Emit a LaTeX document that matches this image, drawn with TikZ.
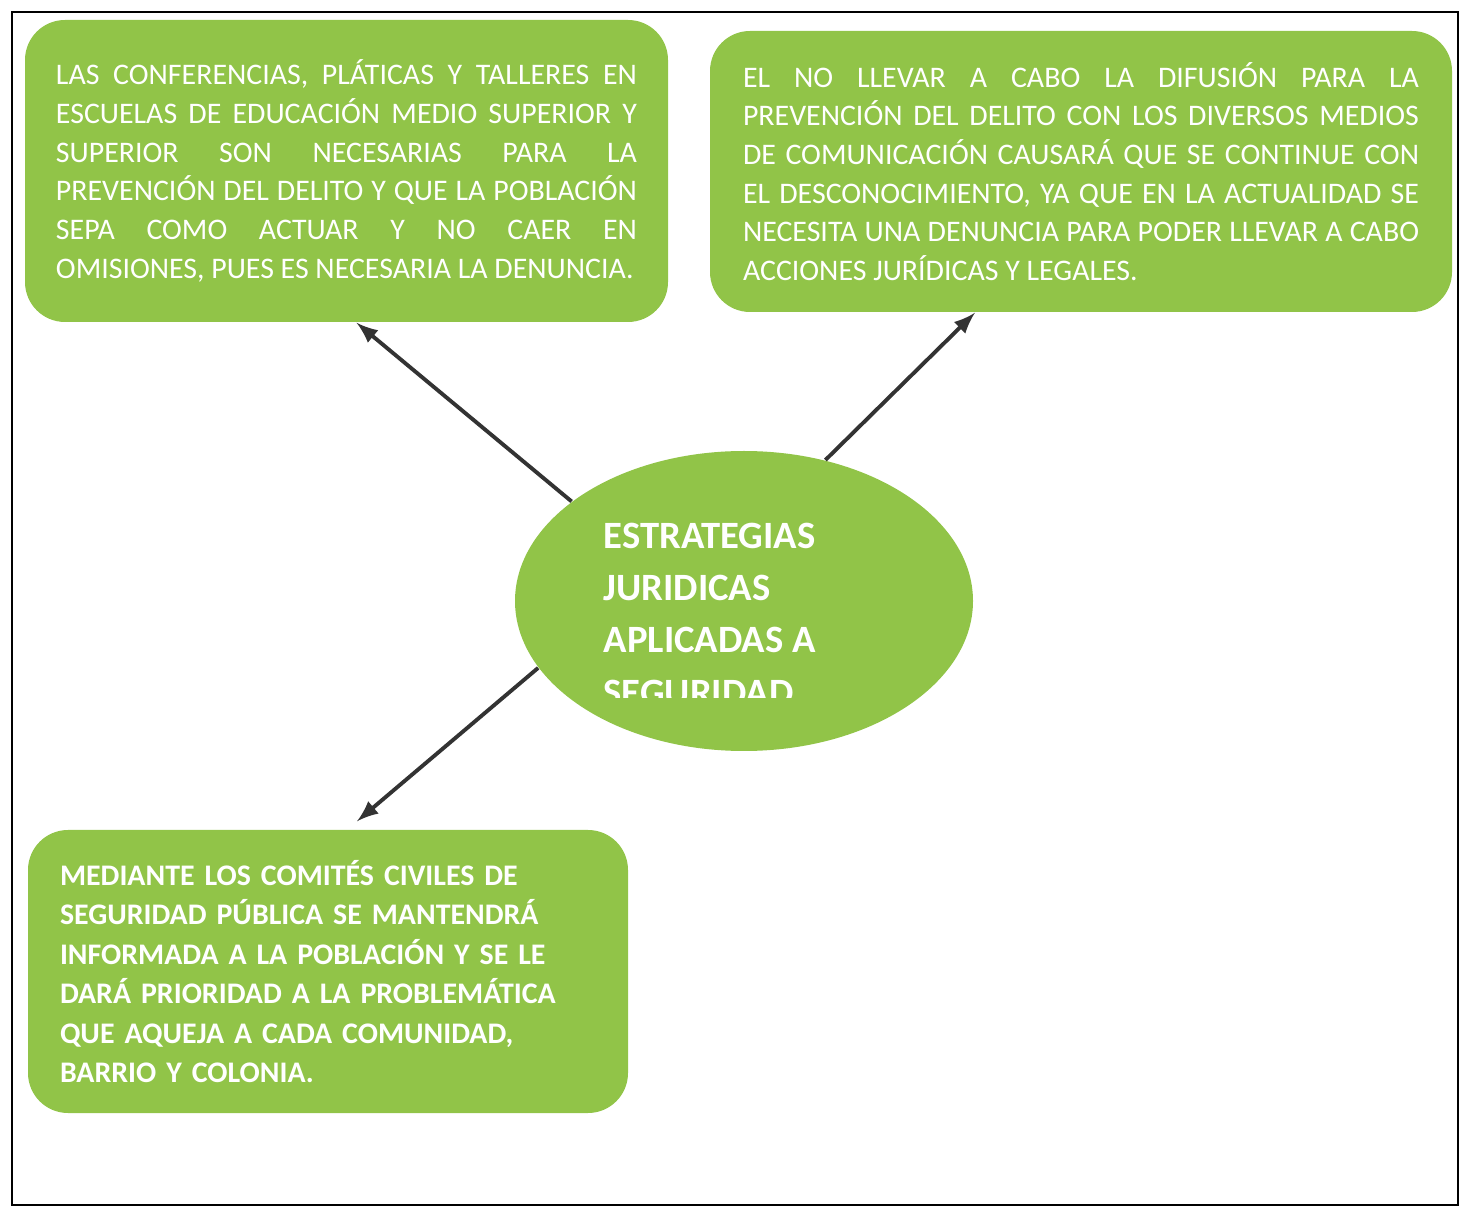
\documentclass[tikz,border=0pt]{standalone}
\usepackage{fontspec}
\setmainfont{Carlito}
\usetikzlibrary{shapes.geometric}

\definecolor{leaf}{RGB}{145,196,72}
\hbadness = 10000

\begin{document}
\begin{tikzpicture}[> = latex,
	textbox/.style = {fill = leaf, rounded corners = 0.4cm, text = white, inner sep = 0, font = \fontsize{8.5}{11}\selectfont},
	hub/.style = {ellipse, fill = leaf, inner sep = 0},
	hubtext/.style = {text = white, inner sep = 0, align = left, font = \fontsize{11}{14.9}\selectfont\bfseries},
	link/.style = {->, line width = 1.1pt, draw = black!80}]

	% Page + frame
	
	\useasboundingbox (0, 0) rectangle (14.72, 12.09);
	\draw [line width = 0.6pt] (0.12, 0.04) rectangle (14.58, 11.97);
	
	% Boxes
	
	\node [textbox, minimum width = 6.43cm, minimum height = 3.02cm, text width = 5.81cm, align = justify] (talks) at (3.465, 10.38)
		{LAS CONFERENCIAS, PLÁTICAS Y TALLERES EN\linebreak
		ESCUELAS DE EDUCACIÓN MEDIO SUPERIOR Y\linebreak
		SUPERIOR SON NECESARIAS PARA LA\linebreak
		PREVENCIÓN DEL DELITO Y QUE LA POBLACIÓN\linebreak
		SEPA COMO ACTUAR Y NO CAER EN\linebreak
		OMISIONES, PUES ES NECESARIA LA DENUNCIA.};
	
	\node [textbox, minimum width = 7.42cm, minimum height = 2.81cm, text width = 6.76cm, align = justify] (media) at (10.81, 10.375)
		{EL NO LLEVAR A CABO LA DIFUSIÓN PARA LA\linebreak
		PREVENCIÓN DEL DELITO CON LOS DIVERSOS MEDIOS\linebreak
		DE COMUNICACIÓN CAUSARÁ QUE SE CONTINUE CON\linebreak
		EL DESCONOCIMIENTO, YA QUE EN LA ACTUALIDAD SE\linebreak
		NECESITA UNA DENUNCIA PARA PODER LLEVAR A CABO\linebreak
		ACCIONES JURÍDICAS Y LEGALES.};
	
	\node [textbox, minimum width = 6.0cm, minimum height = 2.83cm, text width = 5.36cm, align = left, font = \fontsize{8.5}{11.25}\selectfont\bfseries] (civil) at (3.28, 2.375)
		{MEDIANTE LOS COMITÉS CIVILES DE\\
		SEGURIDAD PÚBLICA SE MANTENDRÁ\\
		INFORMADA A LA POBLACIÓN Y SE LE\\
		DARÁ PRIORIDAD A LA PROBLEMÁTICA\\
		QUE AQUEJA A CADA COMUNIDAD,\\
		BARRIO Y COLONIA.};
	
	% Centre ellipse + its (cut off) title
	
	\node [hub, minimum width = 4.58cm, minimum height = 3.0cm] (core) at (7.44, 6.08) {};
	
	\begin{scope}
		\clip (5, 5.11) rectangle (10, 9);
		\node [hubtext, anchor = north west] (coretitle) at (6.03, 6.87)
			{ESTRATEGIAS\\ JURIDICAS\\ APLICADAS A\\ SEGURIDAD};
	\end{scope}
	
	% Arrows
	
	\draw [link] (core.150) -- ([xshift = 0.1cm] talks.south);
	\draw [link] (core.60) -- ([xshift = -1.06cm] media.south);
	\draw [link] (core.198) -- ([xshift = 0.29cm, yshift = 0.08cm] civil.north);

\end{tikzpicture}
\end{document}
